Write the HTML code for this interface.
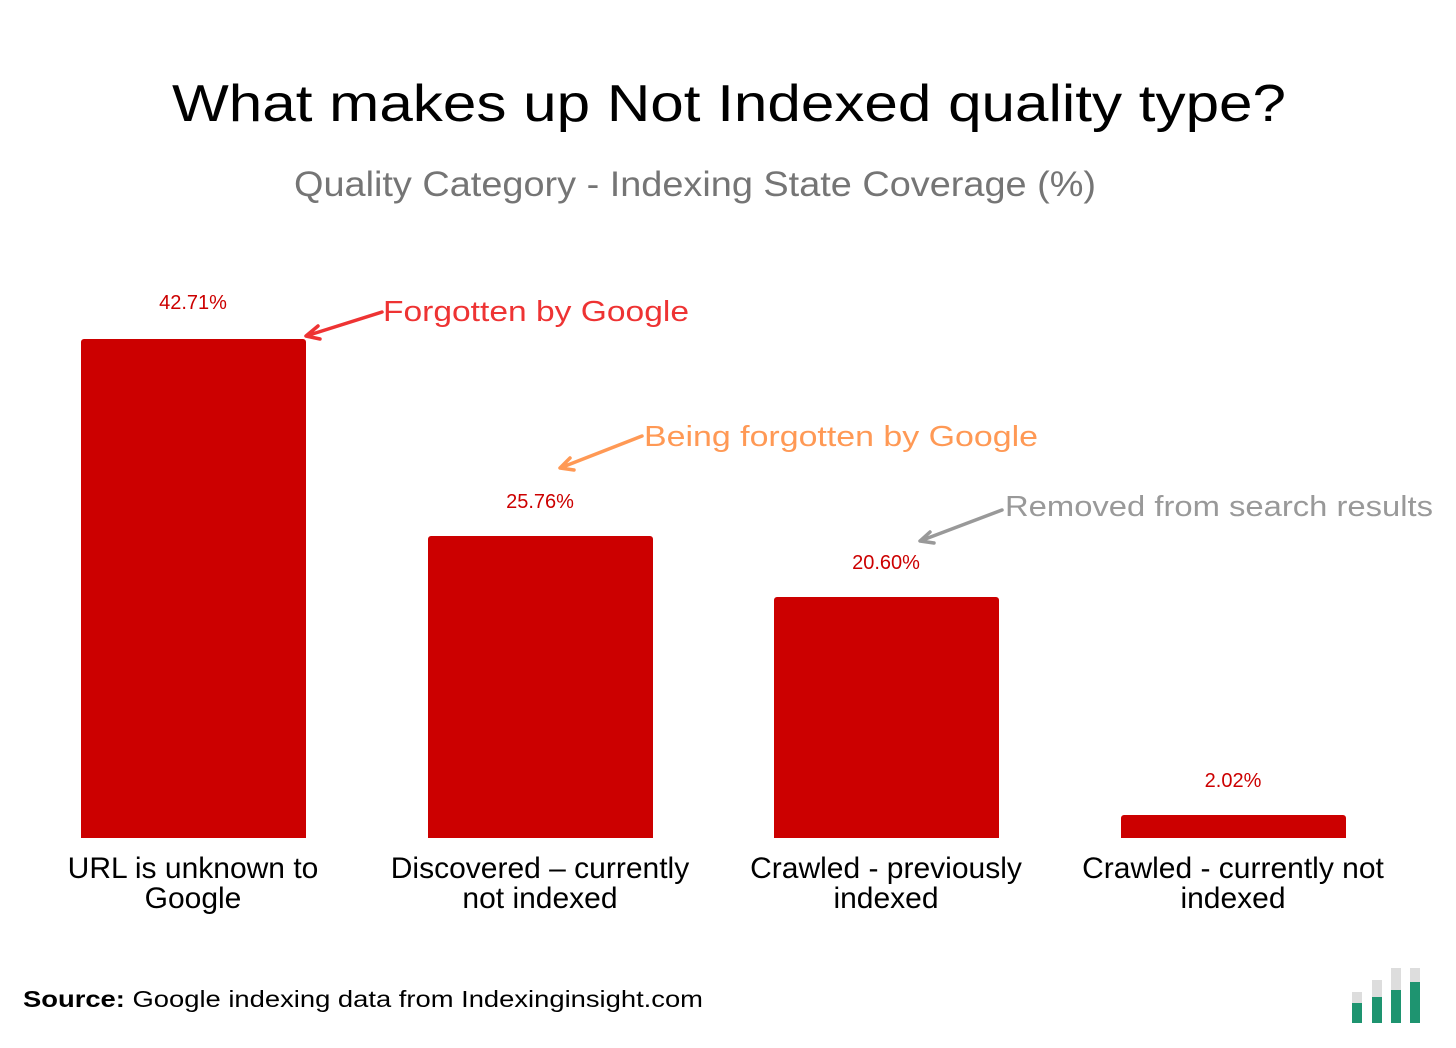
<!DOCTYPE html>
<html><head><meta charset="utf-8"><style>body{margin:0;background:#fff}svg{display:block}</style></head>
<body>
<svg width="1456" height="1048" viewBox="0 0 1456 1048" xmlns="http://www.w3.org/2000/svg" font-family="Liberation Sans, sans-serif">
<rect width="1456" height="1048" fill="#fff"/>
<text x="172" y="121" font-size="52" fill="#000" textLength="1114" lengthAdjust="spacingAndGlyphs">What makes up Not Indexed quality type?</text>
<text x="294" y="196" font-size="35" fill="#757575" textLength="802" lengthAdjust="spacingAndGlyphs">Quality Category - Indexing State Coverage (%)</text>
<g fill="#cc0000">
<path d="M81 838V342a3 3 0 0 1 3-3H303a3 3 0 0 1 3 3V838z"/>
<path d="M428 838V539a3 3 0 0 1 3-3H650a3 3 0 0 1 3 3V838z"/>
<path d="M774 838V600a3 3 0 0 1 3-3H996a3 3 0 0 1 3 3V838z"/>
<path d="M1121 838V818a3 3 0 0 1 3-3H1343a3 3 0 0 1 3 3V838z"/>
</g>
<g font-size="20" fill="#cc0000" text-anchor="middle">
<text x="193" y="309">42.71%</text>
<text x="540" y="508">25.76%</text>
<text x="886" y="569">20.60%</text>
<text x="1233" y="787">2.02%</text>
</g>
<g font-size="30" fill="#000" text-anchor="middle">
<text x="193" y="878">URL is unknown to</text><text x="193" y="908">Google</text>
<text x="540" y="878">Discovered – currently</text><text x="540" y="908">not indexed</text>
<text x="886" y="878">Crawled - previously</text><text x="886" y="908">indexed</text>
<text x="1233" y="878">Crawled - currently not</text><text x="1233" y="908">indexed</text>
</g>
<g stroke-width="3.5" fill="none" stroke-linecap="round" stroke-linejoin="round">
<path d="M382 312L306 336M318 326L306 336L320 339" stroke="#ee3333"/>
<path d="M642 436L560 468M570 458L560 468L574 470" stroke="#ff9955"/>
<path d="M1002 510L920 541M930 532L920 541L934 543" stroke="#999"/>
</g>
<text x="383" y="321" font-size="29" fill="#ee3333" textLength="306" lengthAdjust="spacingAndGlyphs">Forgotten by Google</text>
<text x="644" y="446" font-size="29" fill="#ff9955" textLength="394" lengthAdjust="spacingAndGlyphs">Being forgotten by Google</text>
<text x="1005" y="516" font-size="29" fill="#999" textLength="428" lengthAdjust="spacingAndGlyphs">Removed from search results</text>
<text x="23" y="1007" font-size="23" fill="#000" textLength="680" lengthAdjust="spacingAndGlyphs"><tspan font-weight="bold">Source:</tspan> Google indexing data from Indexinginsight.com</text>
<g>
<rect x="1352" y="992" width="10" height="31" fill="#ddd"/><rect x="1352" y="1003" width="10" height="20" fill="#1e9470"/>
<rect x="1372" y="980" width="10" height="43" fill="#ddd"/><rect x="1372" y="997" width="10" height="26" fill="#1e9470"/>
<rect x="1391" y="968" width="10" height="55" fill="#ddd"/><rect x="1391" y="990" width="10" height="33" fill="#1e9470"/>
<rect x="1410" y="968" width="10" height="55" fill="#ddd"/><rect x="1410" y="982" width="10" height="41" fill="#1e9470"/>
</g>
</svg>
</body></html>
